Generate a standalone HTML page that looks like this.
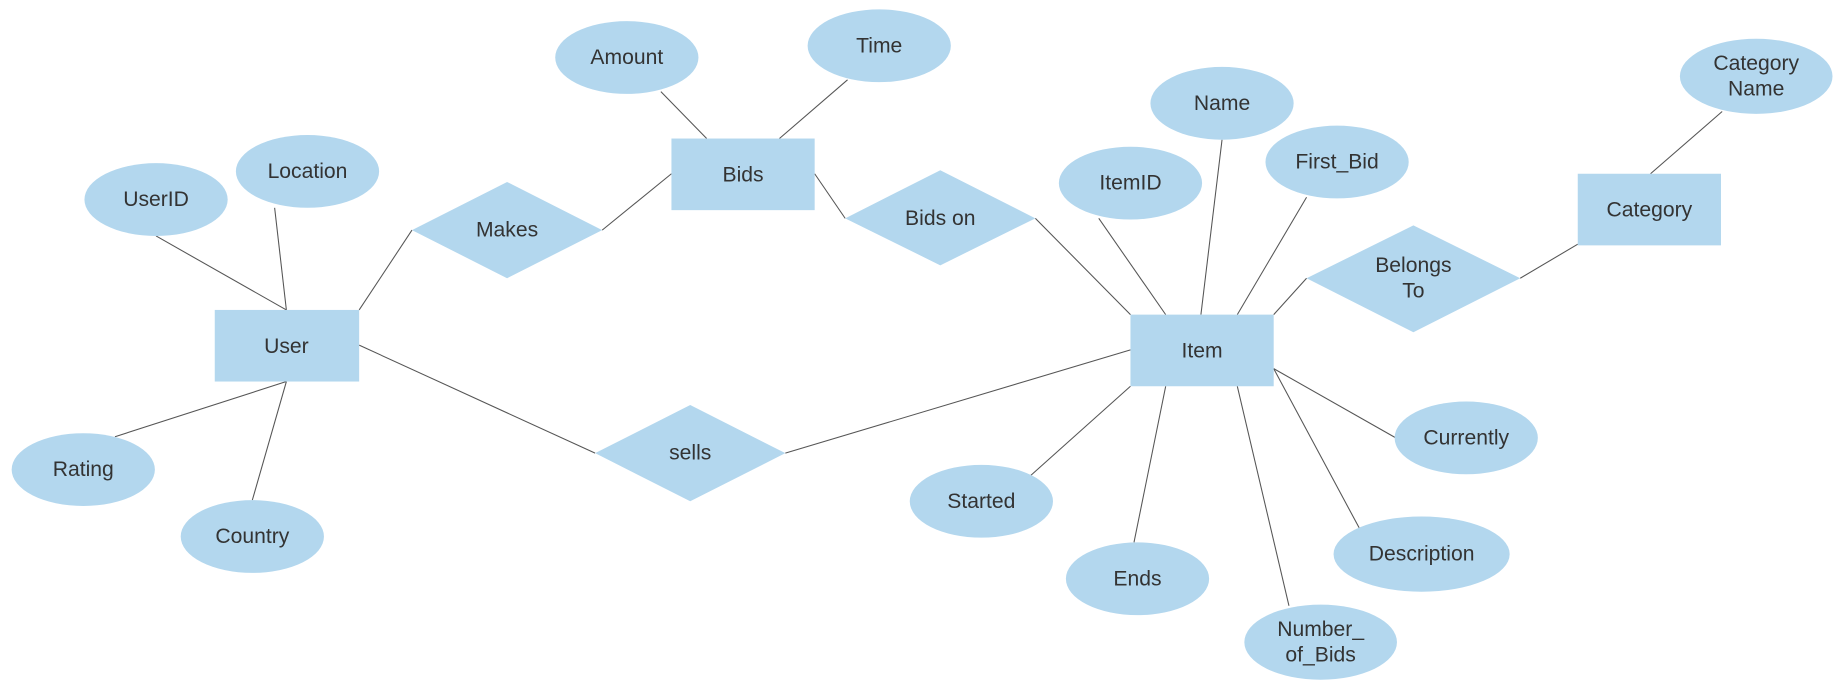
<!DOCTYPE html>
<html><head><meta charset="utf-8"><style>
html,body{margin:0;padding:0;background:#fff;width:1843px;height:695px;overflow:hidden}
svg{display:block}
text{font-family:"Liberation Sans",Arial,sans-serif;font-size:18px;fill:#333;text-anchor:middle;dominant-baseline:central}
</style></head><body>
<svg width="1843" height="695" viewBox="0 0 1568 592" xmlns="http://www.w3.org/2000/svg">
<g stroke="#555" stroke-width="0.9" fill="none">
<line x1="132" y1="201" x2="243" y2="264"/>
<line x1="233" y1="177" x2="243" y2="264"/>
<line x1="97" y1="372" x2="243" y2="325"/>
<line x1="214" y1="426" x2="243" y2="325"/>
<line x1="305" y1="264" x2="350" y2="196"/>
<line x1="512" y1="196" x2="571" y2="148"/>
<line x1="562" y1="78" x2="601" y2="118"/>
<line x1="721" y1="68" x2="663" y2="118"/>
<line x1="693" y1="148" x2="719" y2="186"/>
<line x1="881" y1="186" x2="962" y2="268"/>
<line x1="305" y1="294" x2="506" y2="386"/>
<line x1="668" y1="386" x2="962" y2="298"/>
<line x1="1040" y1="119" x2="1022" y2="268"/>
<line x1="935" y1="186" x2="992" y2="268"/>
<line x1="1112" y1="168" x2="1053" y2="268"/>
<line x1="1084" y1="268" x2="1112" y2="237"/>
<line x1="1294" y1="237" x2="1343" y2="208"/>
<line x1="1405" y1="148" x2="1466" y2="95"/>
<line x1="1084" y1="314" x2="1188" y2="373"/>
<line x1="1084" y1="314" x2="1157" y2="450"/>
<line x1="1053" y1="329" x2="1097" y2="516"/>
<line x1="992" y1="329" x2="965" y2="462"/>
<line x1="962" y1="329" x2="877" y2="405"/>
</g>
<g fill="#b3d7ee">
<rect x="182" y="264" width="123" height="61"/>
<rect x="571" y="118" width="122" height="61"/>
<rect x="962" y="268" width="122" height="61"/>
<rect x="1343" y="148" width="122" height="61"/>
<polygon points="350,196 431,155 512,196 431,237"/>
<polygon points="719,186 800,145 881,186 800,226"/>
<polygon points="506,386 587,345 668,386 587,427"/>
<polygon points="1112,237 1203,192 1294,237 1203,283"/>
<ellipse cx="132" cy="170" rx="61" ry="31"/>
<ellipse cx="261" cy="146" rx="61" ry="31"/>
<ellipse cx="70" cy="400" rx="61" ry="31"/>
<ellipse cx="214" cy="457" rx="61" ry="31"/>
<ellipse cx="533" cy="49" rx="61" ry="31"/>
<ellipse cx="748" cy="39" rx="61" ry="31"/>
<ellipse cx="1040" cy="88" rx="61" ry="31"/>
<ellipse cx="962" cy="156" rx="61" ry="31"/>
<ellipse cx="1138" cy="138" rx="61" ry="31"/>
<ellipse cx="1495" cy="65" rx="65" ry="32"/>
<ellipse cx="1248" cy="373" rx="61" ry="31"/>
<ellipse cx="1210" cy="472" rx="75" ry="32"/>
<ellipse cx="1124" cy="547" rx="65" ry="32"/>
<ellipse cx="968" cy="493" rx="61" ry="31"/>
<ellipse cx="835" cy="427" rx="61" ry="31"/>
</g>
<text x="243" y="295">User</text>
<text x="632" y="149">Bids</text>
<text x="1023" y="299">Item</text>
<text x="1404" y="179">Category</text>
<text x="431" y="196">Makes</text>
<text x="800" y="186">Bids on</text>
<text x="587" y="386">sells</text>
<text x="1203" y="226">Belongs</text>
<text x="1203" y="248">To</text>
<text x="132" y="170">UserID</text>
<text x="261" y="146">Location</text>
<text x="70" y="400">Rating</text>
<text x="214" y="457">Country</text>
<text x="533" y="49">Amount</text>
<text x="748" y="39">Time</text>
<text x="1040" y="88">Name</text>
<text x="962" y="156">ItemID</text>
<text x="1138" y="138">First_Bid</text>
<text x="1495" y="54">Category</text>
<text x="1495" y="76">Name</text>
<text x="1248" y="373">Currently</text>
<text x="1210" y="472">Description</text>
<text x="1124" y="536">Number_</text>
<text x="1124" y="558">of_Bids</text>
<text x="968" y="493">Ends</text>
<text x="835" y="427">Started</text>
</svg>
</body></html>
